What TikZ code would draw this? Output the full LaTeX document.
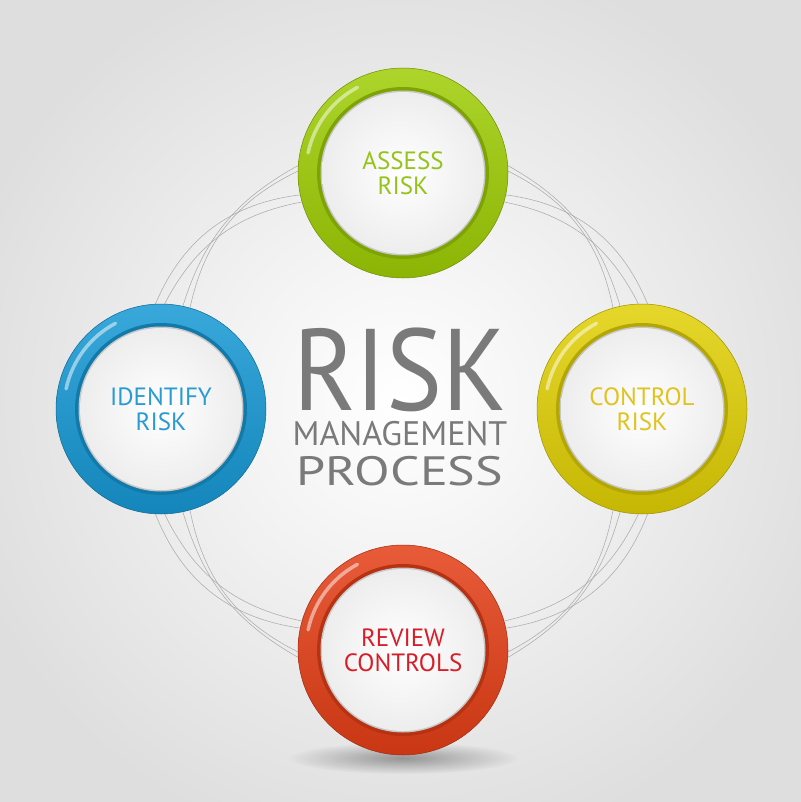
\documentclass[tikz,border=0pt]{standalone}
\usepackage{fontspec}
\setmainfont{PT Sans}
\usetikzlibrary{fadings}
\pgfdeclarelayer{bg}
\pgfdeclarelayer{lines}
\pgfsetlayers{bg,lines,main}
\definecolor{cgreen}{RGB}{158,205,5}
\definecolor{cblue}{RGB}{22,152,212}
\definecolor{cyellow}{RGB}{225,208,5}
\definecolor{cred}{RGB}{228,62,22}
\definecolor{tgreen}{RGB}{150,195,25}
\definecolor{tblue}{RGB}{40,155,210}
\definecolor{tyellow}{RGB}{225,195,30}
\definecolor{tred}{RGB}{215,30,40}
\definecolor{titlegray}{RGB}{122,122,122}
\tikzfading[name=fuzzy, inner color=transparent!0, outer color=transparent!100]
\begin{document}
\begin{tikzpicture}[x=1pt,y=-1pt,
  thinline/.style={draw=gray!65, line width=0.55pt},
  badge/.style 2 args={circle, minimum size=210pt, inner sep=0pt,
    top color=#1!85!white, bottom color=#1!88!black, draw=#1!70!black, line width=0.5pt,
    text=#2, align=center, font=\fontsize{25}{25}\selectfont,
    path picture={
      \fill[#1!80!black] (path picture bounding box.center) circle (86pt);
      \fill[gray!45] (path picture bounding box.center) circle (82.5pt);
      \shade[inner color=white, outer color=gray!14] (path picture bounding box.center) circle (81pt);
      \draw[white, opacity=0.5, line width=3.5pt, line cap=round]
        (path picture bounding box.center) ++(118:97pt) arc (118:168:97pt);
    }},
  titletext/.style={text=titlegray, inner sep=0pt, anchor=base}
]
\useasboundingbox (0,0) rectangle (800,802);
\begin{pgfonlayer}{bg}
  \shade[inner color=white, outer color=black!13] (-60,-60) rectangle (860,862);
  \fill[black, opacity=0.35, path fading=fuzzy] (403,758) ellipse (115pt and 16pt);
\end{pgfonlayer}

\node[badge={cgreen}{tgreen}] (assess) at (403,173) {ASSESS\\RISK};
\node[badge={cblue}{tblue}] (identify) at (161,409) {IDENTIFY\\RISK};
\node[badge={cyellow}{tyellow}] (control) at (642,409) {CONTROL\\RISK};
\node[badge={cred}{tred}] (review) at (403,650) {REVIEW\\CONTROLS};

\node[titletext, font=\fontsize{116}{116}\selectfont, xscale=0.91] (risk) at (400,410) {RISK};
\node[titletext, font=\fontsize{34}{34}\selectfont] (mgmt) at (400,445) {MANAGEMENT};
\node[titletext, font=\fontsize{41}{41}\selectfont, xscale=1.27] (proc) at (400,485) {PROCESS};

\begin{pgfonlayer}{lines}
  % top - left
  \draw[thinline] (assess.176) to[bend right=22] (identify.78);
  \draw[thinline] (assess.179) to[bend right=26] (identify.74);
  \draw[thinline] (assess.192) to[bend right=30] (identify.93);
  \draw[thinline] (assess.196) to[bend right=26] (identify.88);
  % top - right
  \draw[thinline] (assess.4) to[bend left=22] (control.102);
  \draw[thinline] (assess.1) to[bend left=26] (control.106);
  \draw[thinline] (assess.-12) to[bend left=30] (control.87);
  \draw[thinline] (assess.-16) to[bend left=26] (control.92);
  % bottom - left
  \draw[thinline] (review.184) to[bend left=22] (identify.282);
  \draw[thinline] (review.181) to[bend left=26] (identify.286);
  \draw[thinline] (review.168) to[bend left=30] (identify.267);
  \draw[thinline] (review.164) to[bend left=26] (identify.272);
  % bottom - right
  \draw[thinline] (review.356) to[bend right=22] (control.258);
  \draw[thinline] (review.359) to[bend right=26] (control.254);
  \draw[thinline] (review.12) to[bend right=30] (control.273);
  \draw[thinline] (review.16) to[bend right=26] (control.268);
\end{pgfonlayer}
\end{tikzpicture}
\end{document}
